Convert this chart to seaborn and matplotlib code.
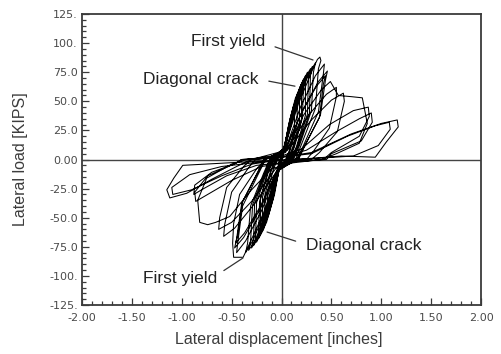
import matplotlib
matplotlib.use("Agg")
import matplotlib.pyplot as plt
import matplotlib.ticker as mticker
import pandas as pd
import seaborn as sns

# lateral displacement [in], lateral load [kips]
elastic = [(0.00, 0), (0.02, 6), (0.03, 10), (0.01, 3), (-0.02, -6), (-0.03, -10), (-0.01, -3), (0.00, 0),
           (0.04, 14), (0.06, 21), (0.03, 9), (-0.04, -13), (-0.06, -20), (-0.03, -8), (0.00, 0),
           (0.05, 17), (0.09, 31), (0.05, 15), (-0.05, -15), (-0.09, -30), (-0.05, -12), (0.00, 1),
           (0.07, 25), (0.12, 42), (0.08, 26), (-0.02, -3), (-0.07, -24), (-0.12, -41), (-0.07, -20), (-0.02, 0)]

cracking = [(0.02, 6), (0.07, 29), (0.12, 46), (0.15, 52), (0.13, 47), (0.13, 26), (0.08, 8), (0.04, 0),
            (-0.02, -6), (-0.07, -30), (-0.13, -48), (-0.16, -54), (-0.14, -49), (-0.14, -27), (-0.08, -8), (-0.04, 0),
            (0.02, 7), (0.08, 33), (0.14, 53), (0.18, 60), (0.16, 54), (0.155, 30), (0.09, 9), (0.05, 0),
            (-0.02, -7), (-0.085, -34), (-0.15, -54), (-0.19, -61), (-0.17, -55), (-0.165, -30), (-0.10, -9), (-0.05, 0),
            (0.02, 8), (0.09, 36), (0.16, 57), (0.20, 65), (0.18, 58), (0.18, 32), (0.11, 10), (0.06, 0),
            (-0.02, -8), (-0.095, -35), (-0.17, -56), (-0.21, -64), (-0.19, -58), (-0.19, -32), (-0.11, -10), (-0.06, 0),
            (0.02, 8), (0.10, 38), (0.18, 61), (0.22, 69), (0.20, 62), (0.20, 34), (0.12, 10), (0.07, 0),
            (-0.03, -8), (-0.10, -37), (-0.18, -60), (-0.23, -68), (-0.21, -61), (-0.21, -34), (-0.13, -10), (-0.07, 0),
            (0.02, 9), (0.11, 40), (0.19, 63), (0.24, 72), (0.22, 65), (0.21, 36), (0.13, 11), (0.08, 0),
            (-0.03, -9), (-0.11, -39), (-0.20, -62), (-0.25, -71), (-0.23, -64), (-0.22, -36), (-0.14, -11), (-0.08, 0)]

diagonal = [(0.02, 9), (0.12, 41), (0.21, 66), (0.26, 75), (0.24, 68), (0.24, 38), (0.15, 11), (0.09, 0),
            (-0.03, -9), (-0.13, -41), (-0.22, -65), (-0.28, -74), (-0.26, -67), (-0.25, -37), (-0.15, -11), (-0.09, 0),
            (0.03, 9), (0.13, 43), (0.23, 69), (0.29, 78), (0.27, 70), (0.26, 39), (0.16, 12), (0.10, 0),
            (-0.03, -9), (-0.14, -42), (-0.24, -67), (-0.30, -76), (-0.28, -68), (-0.27, -38), (-0.16, -11), (-0.10, 0),
            (0.03, 10), (0.14, 44), (0.25, 70), (0.31, 80), (0.29, 72), (0.28, 40), (0.17, 12), (0.11, 0),
            (-0.03, -9), (-0.15, -43), (-0.26, -69), (-0.33, -78), (-0.31, -70), (-0.29, -39), (-0.17, -12), (-0.11, 0),
            (0.03, 10), (0.15, 46), (0.27, 73), (0.34, 83), (0.32, 75), (0.30, 42), (0.18, 12), (0.12, 0),
            (-0.04, -10), (-0.16, -44), (-0.29, -70), (-0.36, -80), (-0.34, -72), (-0.31, -40), (-0.18, -12), (-0.12, 0)]

yielding = [(0.03, 10), (0.17, 48), (0.31, 77), (0.36, 86), (0.385, 88), (0.395, 85), (0.37, 78), (0.34, 44), (0.20, 13), (0.14, 0),
            (-0.04, -10), (-0.18, -46), (-0.33, -74), (-0.385, -84), (-0.48, -84), (-0.49, -72), (-0.48, -55), (-0.42, -30), (-0.25, -8), (-0.16, 0),
            (0.04, 9), (0.19, 45), (0.34, 72), (0.43, 82), (0.42, 74), (0.37, 41), (0.22, 12), (0.15, 0),
            (-0.04, -10), (-0.20, -44), (-0.36, -70), (-0.45, -80), (-0.44, -72), (-0.39, -40), (-0.23, -12), (-0.16, 0),
            (0.04, 9), (0.21, 42), (0.37, 67), (0.46, 76), (0.44, 68), (0.39, 38), (0.23, 11), (0.17, 0),
            (-0.04, -9), (-0.21, -42), (-0.38, -67), (-0.47, -76), (-0.45, -68), (-0.40, -38), (-0.24, -11), (-0.18, 0),
            (0.04, 8), (0.20, 40), (0.35, 63), (0.44, 72), (0.42, 65), (0.38, 36), (0.22, 10), (0.16, 0),
            (-0.04, -8), (-0.21, -40), (-0.37, -63), (-0.46, -72), (-0.44, -65), (-0.39, -36), (-0.23, -10), (-0.17, 0)]

degrading = [(0.04, 6), (0.22, 38), (0.40, 60), (0.49, 67), (0.57, 55), (0.70, 54), (0.81, 53), (0.86, 31), (0.78, 14), (0.55, 5), (0.40, 0),
             (0.10, -3), (-0.10, -8), (-0.30, -26), (-0.52, -49), (-0.66, -54), (-0.74, -56), (-0.82, -54), (-0.84, -35), (-0.75, -16), (-0.50, -4), (-0.35, 0),
             (-0.10, 3), (0.06, 8), (0.30, 34), (0.50, 51), (0.62, 57), (0.63, 50), (0.56, 24), (0.38, 6), (0.30, 0),
             (0.10, -2), (-0.06, -8), (-0.30, -36), (-0.50, -54), (-0.63, -60), (-0.62, -50), (-0.55, -24), (-0.38, -6), (-0.30, 0),
             (0.05, 8), (0.27, 38), (0.45, 56), (0.55, 62), (0.55, 54), (0.48, 27), (0.32, 7), (0.25, 0),
             (0.00, -4), (-0.27, -38), (-0.47, -59), (-0.58, -66), (-0.57, -56), (-0.50, -28), (-0.33, -7), (-0.26, 0),
             (0.00, 3), (0.20, 9), (0.48, 30), (0.72, 42), (0.87, 45), (0.88, 37), (0.78, 20), (0.50, 6), (0.42, 0),
             (0.10, -2), (-0.20, -6), (-0.50, -18), (-0.74, -30), (-0.86, -36), (-0.87, -28), (-0.74, -14), (-0.48, -4), (-0.40, 0),
             (0.00, 2), (0.25, 8), (0.55, 24), (0.78, 35), (0.90, 40), (0.91, 32), (0.80, 16), (0.50, 5), (0.45, 0),
             (0.10, -2), (-0.25, -5), (-0.55, -14), (-0.78, -25), (-0.88, -30), (-0.87, -22), (-0.70, -11), (-0.45, -3), (-0.40, 0),
             (0.00, 2), (0.30, 6), (0.70, 22), (1.00, 31), (1.16, 34), (1.17, 28), (1.05, 15), (0.94, 2), (0.60, 3), (0.30, 1),
             (-0.35, -2), (-0.99, -5), (-1.08, -16), (-1.15, -26), (-1.12, -33), (-0.95, -29), (-0.70, -17), (-0.45, -6), (-0.30, 0),
             (0.00, 2), (0.30, 5), (0.66, 20), (0.94, 29), (1.08, 32), (1.09, 26), (0.97, 12), (0.72, 3), (0.35, 1),
             (-0.20, -2), (-0.60, -6), (-0.92, -13), (-1.10, -24), (-1.09, -30), (-0.90, -26), (-0.60, -14), (-0.30, -4), (0.00, 0)]

x_ticks = [-2.0, -1.5, -1.0, -0.5, 0.0, 0.5, 1.0, 1.5, 2.0]
x_labels = ["-2.00", "-1.50", "-1.00", "-0.50", "0.00", "0.50", "1.00", "1.50", "2.00"]
y_ticks = [125, 100, 75, 50, 25, 0, -25, -50, -75, -100, -125]
y_labels = ["125.", "100.", "75.0", "50.0", "25.0", "0.00", "-25.0", "-50.0", "-75.0", "-100.", "-125."]

path = elastic + cracking + diagonal + yielding + degrading
df = pd.DataFrame(path, columns=["disp", "load"])

sns.set_style("white")
plt.rcParams["font.family"] = ["Liberation Sans", "DejaVu Sans"]

fig = plt.figure(figsize=(5.01, 3.54), dpi=100)
ax = fig.add_axes([0.1637, 0.1384, 0.7964, 0.822])

axis_col = "#3a3a3a"
ax.axhline(0, color="#444444", lw=1.0, zorder=1)
ax.axvline(0, color="#444444", lw=1.0, zorder=1)

sns.lineplot(data=df, x="disp", y="load", sort=False, estimator=None,
             color="black", lw=0.75, ax=ax, zorder=2)

ax.set_xlim(-2, 2)
ax.set_ylim(-125, 125)
ax.set_xticks(x_ticks)
ax.set_xticklabels(x_labels, family="DejaVu Sans", fontsize=8, color="#4a4a4a")
ax.set_yticks(y_ticks)
ax.set_yticklabels(y_labels, family="DejaVu Sans", fontsize=8, color="#4a4a4a")
ax.xaxis.set_minor_locator(mticker.MultipleLocator(0.1))
ax.yaxis.set_minor_locator(mticker.MultipleLocator(5))
ax.tick_params(which="both", direction="in", color=axis_col, width=0.9,
               bottom=True, left=True, top=False, right=False)
ax.tick_params(which="major", length=5)
ax.tick_params(which="minor", length=3)
ax.tick_params(axis="x", which="major", pad=6)
ax.tick_params(axis="y", which="major", pad=3)
for s in ax.spines.values():
    s.set_color(axis_col)
    s.set_linewidth(1.3)

ax.set_xlabel("Lateral displacement [inches]", fontsize=11.5, color="#3c3c3c")
ax.set_ylabel("Lateral load [KIPS]", fontsize=11.5, color="#3c3c3c")
ax.xaxis.set_label_coords(0.494, -0.093)
ax.yaxis.set_label_coords(-0.135, 0.5)

note = dict(fontsize=12.5, color="#222222", ha="center", va="center")
ax.annotate("First yield", xy=(0.316, 85.5), xytext=(-0.536, 101),
            arrowprops=dict(arrowstyle="-", color="#333333", lw=0.9, relpos=(1, 0.4), shrinkA=5, shrinkB=0), **note)
ax.annotate("Diagonal crack", xy=(0.135, 63), xytext=(-0.807, 69),
            arrowprops=dict(arrowstyle="-", color="#333333", lw=0.9, relpos=(1, 0.5), shrinkA=5, shrinkB=0), **note)
ax.annotate("Diagonal crack", xy=(-0.145, -62.3), xytext=(0.82, -73.5),
            arrowprops=dict(arrowstyle="-", color="#333333", lw=0.9, relpos=(0, 0.55), shrinkA=5, shrinkB=0), **note)
ax.annotate("First yield", xy=(-0.386, -84.6), xytext=(-1.018, -101.8),
            arrowprops=dict(arrowstyle="-", color="#333333", lw=0.9, relpos=(1, 0.7), shrinkA=3, shrinkB=0), **note)

fig.savefig("out.png", dpi=100, facecolor="white")
